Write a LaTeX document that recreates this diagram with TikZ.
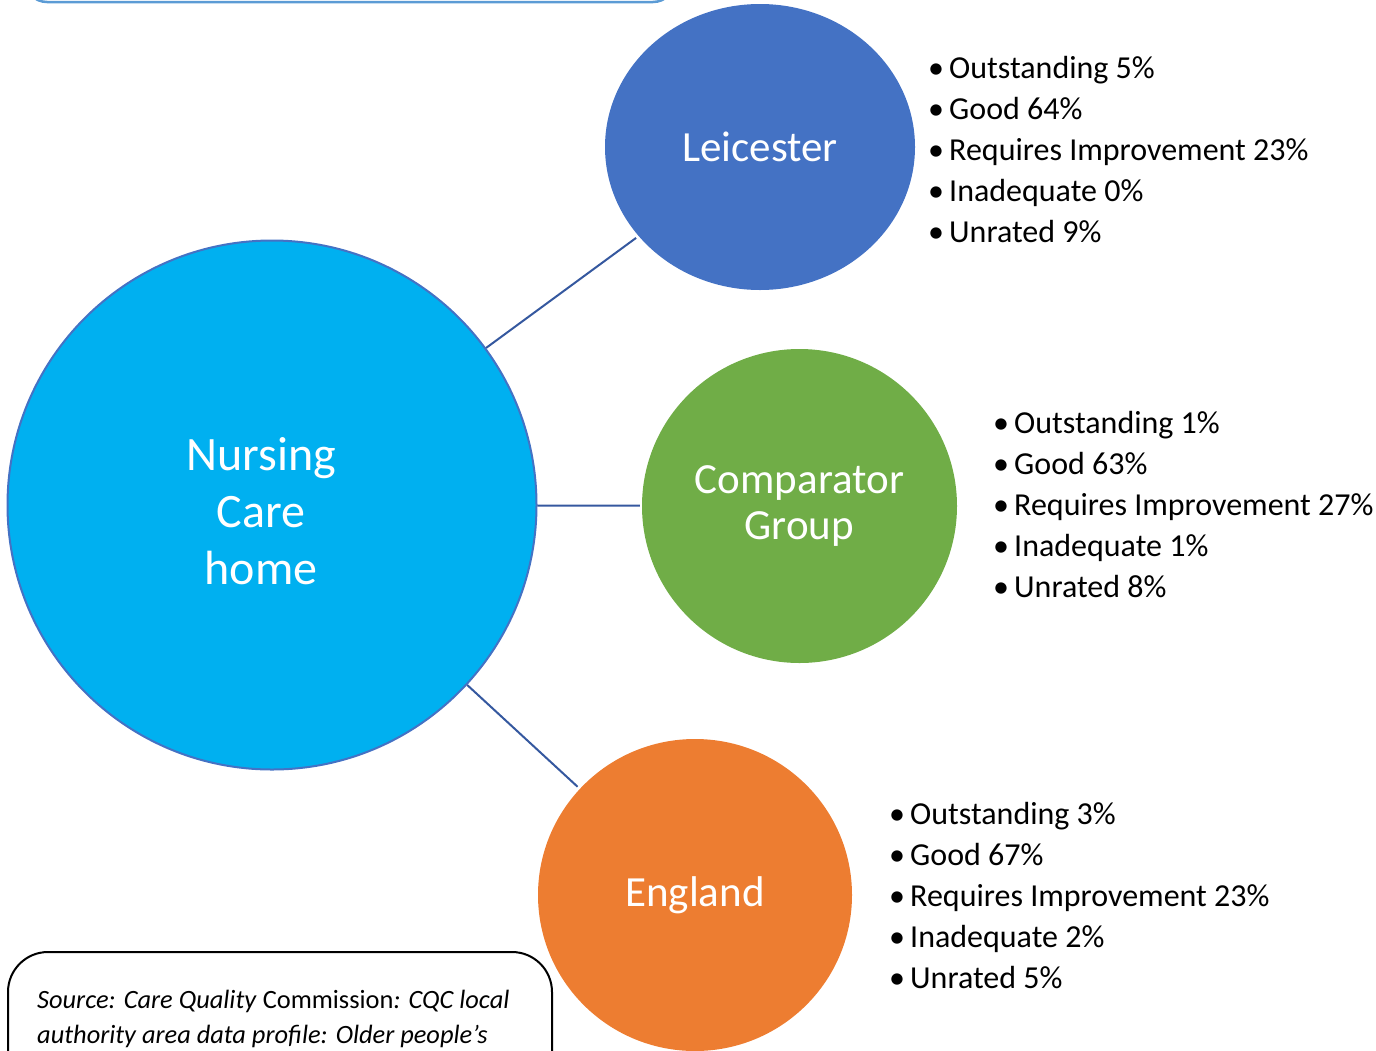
\documentclass[tikz,border=0pt]{standalone}
\usepackage{fontspec}
\setmainfont{Carlito}
\usetikzlibrary{shapes.geometric}
\definecolor{nurse}{HTML}{00B0F0}
\definecolor{leic}{HTML}{4472C4}
\definecolor{comp}{HTML}{70AD47}
\definecolor{engl}{HTML}{ED7D31}
\definecolor{linkc}{HTML}{35589F}
\definecolor{topbox}{HTML}{5B9BD5}
\tikzset{
  bubble/.style={ellipse, inner sep=0pt, text=white, align=center},
  link/.style={draw=linkc, line width=2pt},
  list/.style={anchor=west, inner sep=0pt, align=left, font=\fontsize{32}{41}\selectfont},
}
\newcommand{\bul}{\makebox[21pt][l]{•}}
\begin{document}
\begin{tikzpicture}[x=1pt,y=-1pt]
\useasboundingbox (0,0) rectangle (1376,1050);
\clip (0,0) rectangle (1376,1050);
% top box (mostly off page)
\draw[topbox, line width=2.5pt, rounded corners=22pt] (25,-120) rectangle (675,2);
% circles
\node[bubble, fill=nurse, draw=leic, line width=2pt, minimum width=529pt, minimum height=529pt,
      font=\fontsize{48}{57}\selectfont] (nursing) at (272,505)
      {\begin{tabular}{@{}c@{\hspace{22pt}}}\rule{0pt}{63pt}Nursing\\Care\\home\end{tabular}};
\node[bubble, fill=leic, minimum width=310pt, minimum height=286pt,
      font=\fontsize{43}{46}\selectfont] (leicester) at (760,147) {Leicester};
\node[bubble, fill=comp, minimum width=315pt, minimum height=314pt,
      font=\fontsize{43}{46}\selectfont] (comparator) at (799.5,506) {Comparator\\Group};
\node[bubble, fill=engl, minimum width=314pt, minimum height=312pt,
      font=\fontsize{43}{46}\selectfont] (england) at (695,895) {England};
% connectors
\draw[link, shorten >=3pt] (nursing) -- (leicester);
\draw[link, shorten >=2pt] (nursing) -- (comparator);
\draw[link, shorten >=3pt] (nursing) -- (england);
% lists
\node[list] (leiclist) at (928,150) {\bul Outstanding 5\%\\\bul Good 64\%\\\bul Requires Improvement 23\%\\\bul Inadequate 0\%\\\bul Unrated 9\%};
\node[list] (complist) at (993,505) {\bul Outstanding 1\%\\\bul Good 63\%\\\bul Requires Improvement 27\%\\\bul Inadequate 1\%\\\bul Unrated 8\%};
\node[list] (engllist) at (889,896) {\bul Outstanding 3\%\\\bul Good 67\%\\\bul Requires Improvement 23\%\\\bul Inadequate 2\%\\\bul Unrated 5\%};
% source box
\draw[black, line width=2pt, rounded corners=40pt, fill=white] (8,952) rectangle (552,1200);
\node[anchor=base west, inner sep=0pt, align=left, font=\fontsize{26.4}{35}\selectfont] (source) at (37,1043)
  {\textit{Source: Care Quality} Commission\textit{: CQC local}\\\textit{authority area data profile: Older people’s}};
\end{tikzpicture}
\end{document}
